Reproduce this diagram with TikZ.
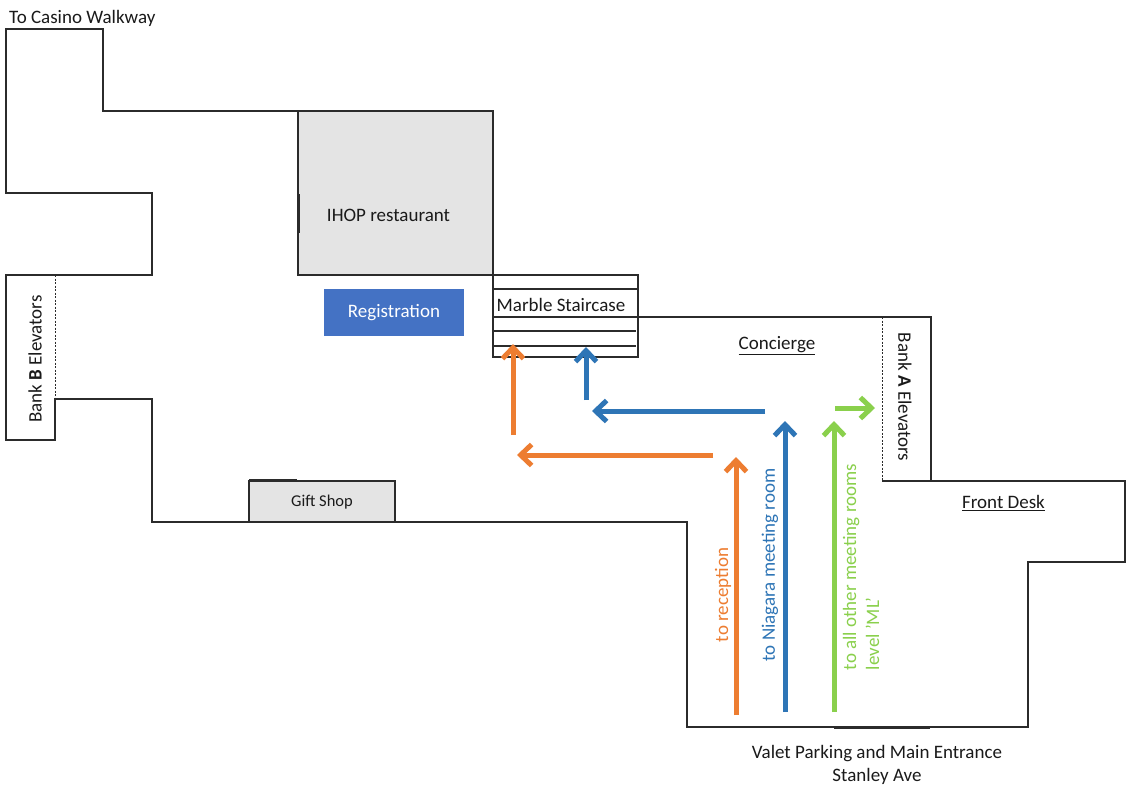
\documentclass[tikz,border=0pt]{standalone}
\usepackage{fontspec}
\setmainfont{Carlito}
\usetikzlibrary{arrows.meta}
\definecolor{wallc}{HTML}{2B2B2B}
\definecolor{roomfill}{HTML}{E4E4E4}
\definecolor{regblue}{HTML}{4472C4}
\definecolor{aorange}{HTML}{ED7D31}
\definecolor{ablue}{HTML}{2E75B6}
\definecolor{agreen}{HTML}{8AD04C}
\definecolor{textc}{HTML}{1A1A1A}
\tikzset{
  x=1pt,y=-1pt,
  wall/.style={draw=wallc,line width=1.2pt,line join=miter},
  door/.style={draw=wallc,line width=3pt},
  doorthin/.style={draw=wallc,line width=1pt,dash pattern=on 2pt off 1.5pt},
  room/.style={wall,fill=roomfill},
  lbl/.style={font=\fontsize{19}{23}\selectfont,text=textc,inner sep=0pt,align=center},
  small/.style={font=\fontsize{16.5}{19}\selectfont,text=textc,inner sep=0pt},
  route/.style={line width=5pt,-{Straight Barb[length=11pt,width=21pt,line width=5pt]}},
  rlabel/.style={rotate=90,font=\fontsize{19}{23}\selectfont,inner sep=0pt,align=left},
}
\begin{document}
\begin{tikzpicture}
\useasboundingbox (0,0) rectangle (1126,797);
% rooms
\fill[white] (0,0) rectangle (1126,797);
\draw[room] (298,111) rectangle (493,275);
\draw[room] (249,481) rectangle (395,522);
% outer walls
\draw[wall] (493,111) -- (103,111) -- (103,29) -- (6,29) -- (6,193) -- (152,193) -- (152,275) -- (6,275)
  -- (6,440) -- (55,440) -- (55,399) -- (152,399) -- (152,522) -- (687,522) -- (687,727) -- (1028,727)
  -- (1028,562) -- (1125,562) -- (1125,481) -- (882,481);
\draw[wall] (931,481) -- (931,317) -- (493,317);
\draw[wall] (493,275) rectangle (638,357);
\draw[wall] (493,289) -- (638,289);
\draw[wall] (493,331) -- (636,331);
\draw[wall] (493,346) -- (636,346);
% doors
\draw[doorthin] (55,275) -- (55,399);
\draw[doorthin] (882,317) -- (882,481);
\draw[door] (298,194) -- (298,233);
\draw[door] (249,480) -- (297,480);
\draw[door] (834,727) -- (930,727);
% labels
\node[lbl,anchor=west] (casino) at (9,18) {To Casino Walkway};
\node[lbl] (ihop) at (388.5,215) {IHOP restaurant};
\node[small] (gift) at (322,502) {Gift Shop};
\node[lbl,fill=regblue,text=white,minimum width=140pt,minimum height=47pt] (reg) at (394,312.5) {Registration};
\node[lbl,anchor=west] (marble) at (496.5,304.5) {Marble Staircase};
\node[lbl] (conc) at (777,346) {\underline{Concierge}};
\node[lbl] (front) at (1003.5,503) {\underline{Front Desk}};
\node[lbl,rotate=90] (bankb) at (35,359) {Bank \textbf{B} Elevators};
\node[lbl,rotate=-90] (banka) at (905,397) {Bank \textbf{A} Elevators};
\node[lbl] (valet) at (877,764.5) {Valet Parking and Main Entrance\\Stanley Ave};
\node[rlabel,text=aorange] (trec) at (723,595) {to reception};
\node[rlabel,text=ablue] (tnia) at (770,565) {to Niagara meeting room};
\node[rlabel,text=agreen] (tall) at (861,567) {to all other meeting rooms\\level 'ML'};
% route points
\coordinate (o1) at (736,715); \coordinate (o2) at (736,457);
\coordinate (o3) at (713,455); \coordinate (o4) at (517,455);
\coordinate (o5) at (513,435); \coordinate (o6) at (513,344);
\coordinate (b1) at (785,712); \coordinate (b2) at (785,421);
\coordinate (b3) at (765,411); \coordinate (b4) at (592,411);
\coordinate (b5) at (586,400); \coordinate (b6) at (586,347);
\coordinate (g1) at (834,712); \coordinate (g2) at (834,421);
\coordinate (g3) at (835,408); \coordinate (g4) at (875,408);
\draw[route,aorange] (o1) -- (o2);
\draw[route,aorange] (o3) -- (o4);
\draw[route,aorange] (o5) -- (o6);
\draw[route,ablue] (b1) -- (b2);
\draw[route,ablue] (b3) -- (b4);
\draw[route,ablue] (b5) -- (b6);
\draw[route,agreen] (g1) -- (g2);
\draw[route,agreen] (g3) -- (g4);
\end{tikzpicture}
\end{document}
